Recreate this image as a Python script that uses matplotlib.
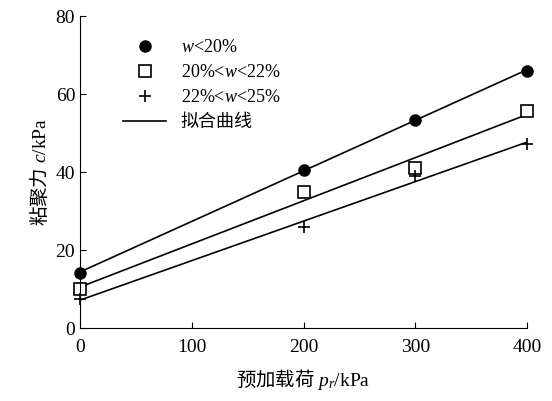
import matplotlib
matplotlib.use('Agg')
import matplotlib.pyplot as plt
import numpy as np

plt.rcParams['font.family'] = ['Liberation Serif', 'Noto Sans CJK SC']
plt.rcParams['mathtext.fontset'] = 'custom'
plt.rcParams['mathtext.rm'] = 'Noto Sans CJK SC'
plt.rcParams['mathtext.it'] = 'Liberation Serif:italic'

x = [0, 200, 300, 400]
c1 = [14.2, 40.6, 53.4, 66.0]
c2 = [10.0, 35.0, 41.0, 55.6]
c3 = [7.5, 26.0, 39.0, 47.3]

fig = plt.figure(figsize=(5.52, 4.01), dpi=100)
ax = fig.add_axes([0.145, 0.182, 0.81, 0.778])

xx = np.array([0, 400])
for ys in (c1, c2, c3):
    k, b = np.polyfit(x, ys, 1)
    ax.plot(xx, k * xx + b, color='black', lw=1.2)

ax.plot(x, c1, 'o', color='black', ms=8, label=r'$w$<20%', clip_on=False)
ax.plot(x, c2, 's', mfc='white', mec='black', ms=8, mew=1.2, label=r'20%<$w$<22%', clip_on=False)
ax.plot(x, c3, '+', color='black', ms=9, mew=1.2, label=r'22%<$w$<25%', clip_on=False)
ax.plot([], [], color='black', lw=1.2, label='拟合曲线')

ax.set_xlim(0, 400)
ax.set_ylim(0, 80)
ax.set_xticks([0, 100, 200, 300, 400])
ax.set_yticks([0, 20, 40, 60, 80])
ax.spines['top'].set_visible(False)
ax.spines['right'].set_visible(False)
ax.tick_params(direction='in', labelsize=14, length=4)
ax.tick_params(axis='x', pad=8)
ax.set_xlabel(r'$\mathrm{预加载荷}\ p_r$/kPa', fontsize=14, labelpad=8)
ax.set_ylabel(r'$\mathrm{粘聚力}\ c$/kPa', fontsize=14)
ax.legend(loc='upper left', bbox_to_anchor=(0.08, 0.95), frameon=False, fontsize=13,
          handlelength=2.4, labelspacing=0.45, borderaxespad=0)

fig.savefig('out.png', dpi=100)
